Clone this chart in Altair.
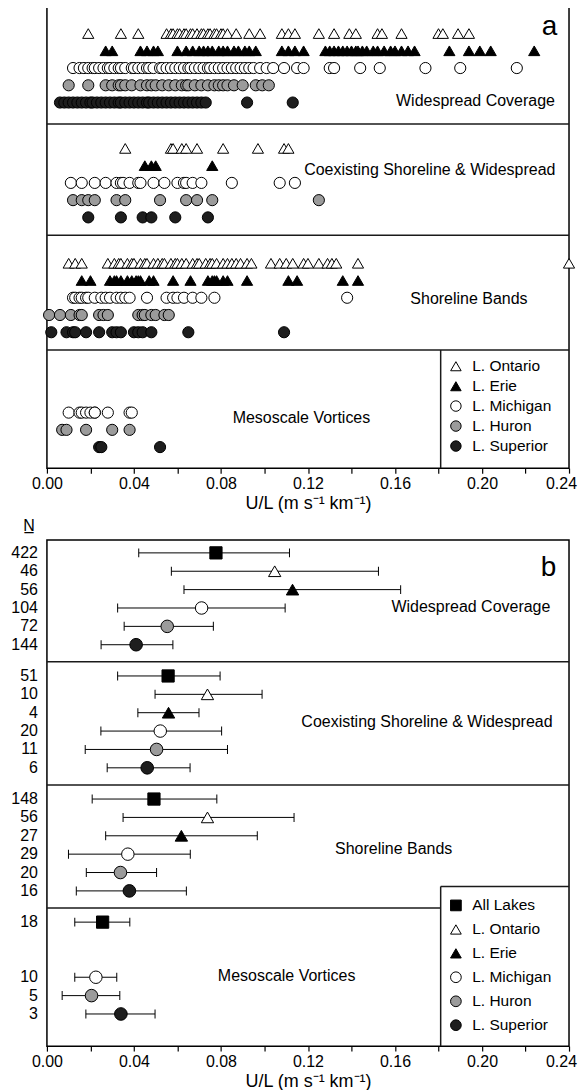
import altair as alt
import pandas as pd

FONT = "Liberation Sans"

LAKES = ["L. Ontario", "L. Erie", "L. Michigan", "L. Huron", "L. Superior"]
B_LAKES = ["All Lakes", "L. Ontario", "L. Erie", "L. Michigan", "L. Huron", "L. Superior"]
CATS = ["Widespread Coverage", "Coexisting Shoreline & Widespread",
        "Shoreline Bands", "Mesoscale Vortices"]
X_TICKS = [0.00, 0.02, 0.04, 0.06, 0.08, 0.10, 0.12, 0.14, 0.16, 0.18, 0.20, 0.22, 0.24]

# ---------------- panel a: individual events (U/L) ----------------
WS_ONTARIO = [0.019, 0.034, 0.042, 0.055, 0.057, 0.058, 0.060, 0.061, 0.063, 0.064,
              0.066, 0.067, 0.069, 0.071, 0.072, 0.074, 0.075, 0.077, 0.078, 0.080,
              0.081, 0.083, 0.087, 0.093, 0.098, 0.108, 0.111, 0.114, 0.125, 0.132,
              0.139, 0.142, 0.152, 0.154, 0.163, 0.180, 0.182, 0.189, 0.194]
WS_ERIE = [0.027, 0.030, 0.043, 0.046, 0.049, 0.051, 0.060, 0.064, 0.067, 0.070,
           0.072, 0.074, 0.076, 0.079, 0.081, 0.083, 0.086, 0.088, 0.091, 0.093,
           0.096, 0.108, 0.111, 0.114, 0.118, 0.128, 0.130, 0.132, 0.134, 0.136,
           0.138, 0.140, 0.142, 0.143, 0.145, 0.147, 0.150, 0.152, 0.155, 0.158,
           0.160, 0.163, 0.166, 0.169, 0.185, 0.194, 0.199, 0.204, 0.224]
WS_MICHIGAN = [0.012, 0.015, 0.017, 0.019, 0.021, 0.022, 0.024, 0.026, 0.028, 0.029,
               0.031, 0.033, 0.034, 0.036, 0.039, 0.040, 0.042, 0.044, 0.046, 0.047,
               0.049, 0.052, 0.053, 0.055, 0.057, 0.059, 0.061, 0.063, 0.065, 0.066,
               0.068, 0.070, 0.072, 0.074, 0.075, 0.077, 0.079, 0.081, 0.083, 0.085,
               0.087, 0.089, 0.091, 0.093, 0.095, 0.098, 0.101, 0.104, 0.109, 0.115,
               0.118, 0.130, 0.132, 0.144, 0.153, 0.174, 0.190, 0.216]
WS_HURON = [0.010, 0.019, 0.027, 0.030, 0.033, 0.034, 0.036, 0.039, 0.043, 0.046,
            0.048, 0.050, 0.053, 0.056, 0.059, 0.062, 0.064, 0.065, 0.068, 0.071,
            0.074, 0.077, 0.079, 0.081, 0.083, 0.086, 0.090, 0.096, 0.099, 0.102]
WS_SUPERIOR = [0.006, 0.008, 0.010, 0.012, 0.014, 0.016, 0.018, 0.020, 0.021, 0.023,
               0.025, 0.027, 0.029, 0.031, 0.033, 0.034, 0.036, 0.038, 0.040, 0.042,
               0.044, 0.046, 0.047, 0.049, 0.051, 0.053, 0.055, 0.057, 0.059, 0.061,
               0.063, 0.065, 0.067, 0.069, 0.071, 0.073, 0.092, 0.113]

CO_ONTARIO = [0.036, 0.057, 0.058, 0.062, 0.064, 0.069, 0.081, 0.097, 0.109, 0.111]
CO_ERIE = [0.045, 0.048, 0.050, 0.076]
CO_MICHIGAN = [0.011, 0.016, 0.022, 0.027, 0.032, 0.034, 0.035, 0.038, 0.042, 0.043,
               0.049, 0.054, 0.060, 0.063, 0.064, 0.067, 0.071, 0.085, 0.107, 0.114]
CO_HURON = [0.012, 0.016, 0.019, 0.022, 0.032, 0.036, 0.052, 0.064, 0.069, 0.076, 0.125]
CO_SUPERIOR = [0.019, 0.034, 0.044, 0.048, 0.059, 0.074]

SB_ONTARIO = [0.010, 0.013, 0.016, 0.028, 0.031, 0.033, 0.034, 0.037, 0.039, 0.040,
              0.043, 0.045, 0.046, 0.049, 0.051, 0.053, 0.054, 0.057, 0.059, 0.060,
              0.062, 0.064, 0.067, 0.069, 0.070, 0.073, 0.075, 0.076, 0.078, 0.081,
              0.083, 0.085, 0.087, 0.089, 0.092, 0.094, 0.103, 0.107, 0.110, 0.113,
              0.118, 0.120, 0.125, 0.129, 0.131, 0.133, 0.143, 0.240]
SB_ERIE = [0.016, 0.020, 0.029, 0.031, 0.032, 0.034, 0.037, 0.039, 0.041, 0.042,
           0.043, 0.047, 0.049, 0.058, 0.066, 0.074, 0.076, 0.077, 0.078, 0.081,
           0.083, 0.092, 0.111, 0.115, 0.136, 0.143]
SB_MICHIGAN = [0.012, 0.013, 0.015, 0.016, 0.018, 0.019, 0.022, 0.025, 0.027, 0.029,
               0.032, 0.034, 0.036, 0.038, 0.046, 0.055, 0.058, 0.060, 0.063, 0.067,
               0.071, 0.077, 0.138]
SB_HURON = [0.001, 0.006, 0.011, 0.015, 0.016, 0.024, 0.026, 0.028, 0.042, 0.044,
            0.045, 0.048, 0.050, 0.054, 0.056]
SB_SUPERIOR = [0.002, 0.009, 0.012, 0.013, 0.018, 0.024, 0.030, 0.032, 0.034, 0.040,
               0.042, 0.044, 0.048, 0.065, 0.109]

MV_MICHIGAN = [0.010, 0.015, 0.016, 0.018, 0.020, 0.022, 0.022, 0.028, 0.038, 0.039]
MV_HURON = [0.007, 0.009, 0.018, 0.030, 0.038]
MV_SUPERIOR = [0.024, 0.025, 0.052]

# ---------------- panel b: mean and spread per lake ----------------
B_N_WS = [422, 46, 56, 104, 72, 144]
B_MEAN_WS = [0.0777, 0.1047, 0.1129, 0.0711, 0.0553, 0.0410]
B_LO_WS = [0.0422, 0.0572, 0.0630, 0.0325, 0.0355, 0.0249]
B_HI_WS = [0.1115, 0.1524, 0.1626, 0.1095, 0.0765, 0.0579]

B_N_CO = [51, 10, 4, 20, 11, 6]
B_MEAN_CO = [0.0557, 0.0738, 0.0559, 0.0521, 0.0504, 0.0461]
B_LO_CO = [0.0325, 0.0497, 0.0418, 0.0248, 0.0176, 0.0277]
B_HI_CO = [0.0796, 0.0989, 0.0699, 0.0803, 0.0830, 0.0658]

B_N_SB = [148, 56, 27, 29, 20, 16]
B_MEAN_SB = [0.0492, 0.0738, 0.0618, 0.0372, 0.0338, 0.0379]
B_LO_SB = [0.0208, 0.0350, 0.0270, 0.0099, 0.0181, 0.0135]
B_HI_SB = [0.0781, 0.1136, 0.0967, 0.0659, 0.0504, 0.0641]

B_N_MV = [18, None, None, 10, 5, 3]
B_MEAN_MV = [0.0256, None, None, 0.0225, 0.0205, 0.0340]
B_LO_MV = [0.0128, None, None, 0.0128, 0.0070, 0.0179]
B_HI_MV = [0.0381, None, None, 0.0321, 0.0335, 0.0497]

# ---------------- layout (row slots in y units) ----------------
A_GROUP, A_FIRST, A_TOTAL = 6.66, 1.6, 26.8
A_SEPS = [6.85, 13.3, 19.95]
B_GROUP, B_FIRST, B_TOTAL = 6.7, 0.7, 27.55
B_SEPS_FULL = [6.63, 13.33]
B_SEP_LAST = 20.03
LEG_EDGE = 0.181
B_LEG_TOP = 18.86
LEG_SYM_X = 0.188
LEG_TXT_X = 0.1955
A_LEG_Y = [20.89, 22.05, 23.2, 24.36, 25.52]
B_LEG_Y = [19.89, 21.2, 22.5, 23.8, 25.11, 26.41]

A_LABEL_X = [0.197, 0.176, 0.194, 0.117]
A_LABEL_Y = [5.5, 9.49, 17.0, 23.9]
B_LABEL_X = [0.1949, 0.1747, 0.1594, 0.1102]
B_LABEL_Y = [3.65, 9.9, 16.83, 23.75]

SHAPES_A = ["triangle-up", "triangle-up", "circle", "circle", "circle"]
FILLS_A = ["white", "black", "white", "#9b9b9b", "#1e1e1e"]
SIZES_A = [125, 125, 85, 95, 100]
SHAPES_B = ["square", "triangle-up", "triangle-up", "circle", "circle", "circle"]
FILLS_B = ["black", "white", "black", "white", "#9b9b9b", "#1e1e1e"]
SIZES_B = [150, 160, 160, 100, 105, 105]

# ---------------- build tables ----------------
a_lists = [
    [WS_ONTARIO, WS_ERIE, WS_MICHIGAN, WS_HURON, WS_SUPERIOR],
    [CO_ONTARIO, CO_ERIE, CO_MICHIGAN, CO_HURON, CO_SUPERIOR],
    [SB_ONTARIO, SB_ERIE, SB_MICHIGAN, SB_HURON, SB_SUPERIOR],
    [[], [], MV_MICHIGAN, MV_HURON, MV_SUPERIOR],
]
rows_a = []
for g, lists in enumerate(a_lists):
    for i, vals in enumerate(lists):
        for v in vals:
            rows_a.append({"cat": CATS[g], "lake": LAKES[i], "value": v,
                           "pos": g * A_GROUP + A_FIRST + i})
df_a = pd.DataFrame(rows_a)

b_sets = [
    (B_N_WS, B_MEAN_WS, B_LO_WS, B_HI_WS),
    (B_N_CO, B_MEAN_CO, B_LO_CO, B_HI_CO),
    (B_N_SB, B_MEAN_SB, B_LO_SB, B_HI_SB),
    (B_N_MV, B_MEAN_MV, B_LO_MV, B_HI_MV),
]
rows_b, caps_b = [], []
for g, (ns, ms, los, his) in enumerate(b_sets):
    for i in range(len(B_LAKES)):
        if ms[i] is None:
            continue
        pos = g * B_GROUP + B_FIRST + i
        rows_b.append({"cat": CATS[g], "lake": B_LAKES[i], "n": str(ns[i]),
                       "mean": ms[i], "lo": los[i], "hi": his[i], "pos": pos})
        caps_b.append({"v": los[i], "pos": pos})
        caps_b.append({"v": his[i], "pos": pos})
df_b = pd.DataFrame(rows_b)
df_caps = pd.DataFrame(caps_b)

lab_a = pd.DataFrame({"label": CATS, "x": A_LABEL_X, "y": A_LABEL_Y})
lab_b = pd.DataFrame({"label": CATS, "x": B_LABEL_X, "y": B_LABEL_Y})
leg_a_df = pd.DataFrame({"lake": LAKES, "y": A_LEG_Y,
                         "sx": [LEG_SYM_X] * 5, "tx": [LEG_TXT_X] * 5})
leg_b_df = pd.DataFrame({"lake": B_LAKES, "y": B_LEG_Y,
                         "sx": [LEG_SYM_X] * 6, "tx": [LEG_TXT_X] * 6})
one = pd.DataFrame({"k": [0]})

# ---------------- shared encodings ----------------
XS = alt.Scale(domain=[0, 0.24], nice=False, zero=False)
XAX = alt.Axis(values=X_TICKS,
               labelExpr="round(datum.value*50) % 2 == 0 ? format(datum.value, '.2f') : ''",
               labelOffset={"condition": {"test": "datum.value > 0.239", "value": -8},
                            "value": 0},
               title="U/L (m s\u207b\u00b9 km\u207b\u00b9)", grid=False, domain=False,
               tickSize=5, tickColor="black", tickWidth=1.2, labelFontSize=16,
               labelColor="black", labelPadding=2, labelOverlap=False, labelFlush=False,
               titleFontSize=18, titleFontWeight="normal", titleColor="black",
               titlePadding=3)
YSA = alt.Scale(domain=[0, A_TOTAL], reverse=True, nice=False, zero=False)
YSB = alt.Scale(domain=[0, B_TOTAL], reverse=True, nice=False, zero=False)
SHAPE_A = alt.Scale(domain=LAKES, range=SHAPES_A)
FILL_A = alt.Scale(domain=LAKES, range=FILLS_A)
SHAPE_B = alt.Scale(domain=B_LAKES, range=SHAPES_B)
FILL_B = alt.Scale(domain=B_LAKES, range=FILLS_B)


def X(field):
    return alt.X(field, type="quantitative", scale=XS, axis=XAX)


def YA(field):
    return alt.Y(field, type="quantitative", scale=YSA, axis=None)


def YB(field):
    return alt.Y(field, type="quantitative", scale=YSB, axis=None)


LINE = dict(color="#1a1a1a", strokeWidth=1.5)
PT = dict(filled=True, opacity=1, stroke="black", strokeWidth=1)

# ---------------- panel a ----------------
seps_a = alt.Chart(pd.DataFrame({"y": A_SEPS})).mark_rule(**LINE).encode(y=YA("y"))
legbox_a = alt.Chart(one).mark_rule(**LINE).encode(
    x=X("e:Q"), y=YA("t:Q"), y2="b:Q").transform_calculate(
    e=str(LEG_EDGE), t=str(A_SEPS[2]), b=str(A_TOTAL))
pts_a = alt.Chart(df_a).mark_point(**PT).encode(
    x=X("value"), y=YA("pos"),
    shape=alt.Shape("lake:N", scale=SHAPE_A, legend=None),
    fill=alt.Fill("lake:N", scale=FILL_A, legend=None),
    size=alt.Size("lake:N", scale=alt.Scale(domain=LAKES, range=SIZES_A), legend=None),
)
legsym_a = alt.Chart(leg_a_df).mark_point(size=110, **PT).encode(
    x=X("sx"), y=YA("y"),
    shape=alt.Shape("lake:N", scale=SHAPE_A, legend=None),
    fill=alt.Fill("lake:N", scale=FILL_A, legend=None))
legtxt_a = alt.Chart(leg_a_df).mark_text(fontSize=15.5, color="black", align="left").encode(
    x=X("tx"), y=YA("y"), text="lake:N")
txt_a = alt.Chart(lab_a).mark_text(fontSize=16, color="black").encode(
    x=X("x"), y=YA("y"), text="label:N")
letter_a = alt.Chart(pd.DataFrame({"t": ["a"], "x": [0.231], "y": [1.7]})).mark_text(
    fontSize=28, color="black", baseline="alphabetic").encode(
    x=X("x"), y=YA("y"), text="t:N")

panel_a = alt.layer(seps_a, legbox_a, pts_a, legsym_a, legtxt_a, txt_a,
                    letter_a).properties(width=523, height=463)

# ---------------- panel b ----------------
seps_b = alt.Chart(pd.DataFrame({"y": B_SEPS_FULL})).mark_rule(**LINE).encode(y=YB("y"))
sep_last = alt.Chart(one).mark_rule(**LINE).encode(
    x=X("a:Q"), x2="b:Q", y=YB("y:Q")).transform_calculate(
    a="0", b=str(LEG_EDGE), y=str(B_SEP_LAST))
legv_b = alt.Chart(one).mark_rule(**LINE).encode(
    x=X("e:Q"), y=YB("t:Q"), y2="b:Q").transform_calculate(
    e=str(LEG_EDGE), t=str(B_LEG_TOP), b=str(B_TOTAL))
legh_b = alt.Chart(one).mark_rule(**LINE).encode(
    x=X("a:Q"), x2="b:Q", y=YB("t:Q")).transform_calculate(
    a=str(LEG_EDGE), b="0.24", t=str(B_LEG_TOP))
bars_b = alt.Chart(df_b).mark_rule(color="black", strokeWidth=1).encode(
    x=X("lo"), x2="hi", y=YB("pos"))
caps = alt.Chart(df_caps).mark_tick(orient="vertical", size=9, thickness=1,
                                    color="black", opacity=1).encode(
    x=X("v"), y=YB("pos"))
pts_b = alt.Chart(df_b).mark_point(**PT).encode(
    x=X("mean"), y=YB("pos"),
    shape=alt.Shape("lake:N", scale=SHAPE_B, legend=None),
    fill=alt.Fill("lake:N", scale=FILL_B, legend=None),
    size=alt.Size("lake:N", scale=alt.Scale(domain=B_LAKES, range=SIZES_B), legend=None),
)
legsym_b = alt.Chart(leg_b_df).mark_point(size=115, **PT).encode(
    x=X("sx"), y=YB("y"),
    shape=alt.Shape("lake:N", scale=SHAPE_B, legend=None),
    fill=alt.Fill("lake:N", scale=FILL_B, legend=None))
legtxt_b = alt.Chart(leg_b_df).mark_text(fontSize=15.5, color="black", align="left").encode(
    x=X("tx"), y=YB("y"), text="lake:N")
ns_b = alt.Chart(df_b).mark_text(fontSize=16, color="black", align="right", dx=-9).encode(
    x=X("z:Q"), y=YB("pos"), text="n:N").transform_calculate(z="0")
nhead = alt.Chart(pd.DataFrame({"t": ["N\u0332"], "x": [0.0], "y": [-0.75]})).mark_text(
    fontSize=16, color="black", dx=-18).encode(
    x=X("x"), y=YB("y"), text="t:N")
txt_b = alt.Chart(lab_b).mark_text(fontSize=16, color="black").encode(
    x=X("x"), y=YB("y"), text="label:N")
letter_b = alt.Chart(pd.DataFrame({"t": ["b"], "x": [0.2306], "y": [1.95]})).mark_text(
    fontSize=28, color="black", baseline="alphabetic").encode(
    x=X("x"), y=YB("y"), text="t:N")

panel_b = alt.layer(seps_b, sep_last, legv_b, legh_b, bars_b, caps, pts_b, legsym_b,
                    legtxt_b, ns_b, nhead, txt_b, letter_b).properties(width=523, height=507)

chart = alt.vconcat(panel_a, panel_b, spacing=4).resolve_scale(
    shape="independent", fill="independent", size="independent",
    x="independent", y="independent").properties(
    padding={"left": 2, "top": -4, "right": 0, "bottom": 0}).configure(
    font=FONT).configure_view(stroke="black", strokeWidth=1.5)

chart.save("out.html", embed_options={"renderer": "svg", "actions": False})
